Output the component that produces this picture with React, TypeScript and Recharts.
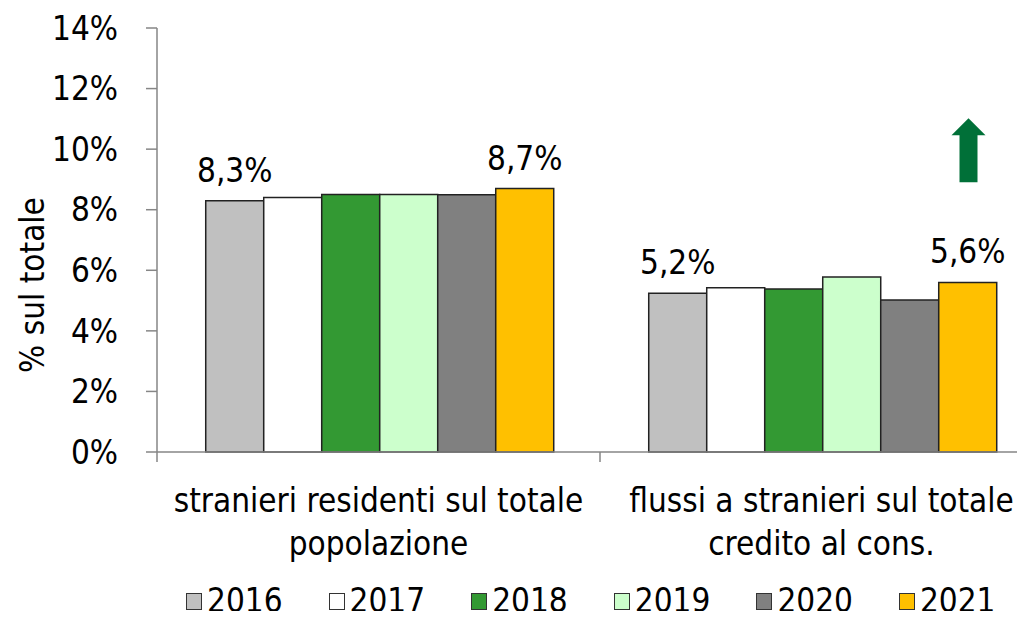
import React from "react";
import {
  BarChart,
  Bar,
  XAxis,
  YAxis,
  LabelList,
  Legend,
  ReferenceDot,
} from "recharts";

const categories = [
  "stranieri residenti sul totale|popolazione",
  "flussi a stranieri sul totale|credito al cons.",
];
const years = ["2016", "2017", "2018", "2019", "2020", "2021"];
const values2016 = [8.3, 5.24];
const values2017 = [8.4, 5.42];
const values2018 = [8.5, 5.38];
const values2019 = [8.5, 5.78];
const values2020 = [8.49, 5.02];
const values2021 = [8.7, 5.6];
const yTicks = [0, 2, 4, 6, 8, 10, 12, 14];

const colors = ["#C0C0C0", "#FFFFFF", "#339933", "#CCFFCC", "#808080", "#FFC000"];
const FONT = "'Liberation Sans Narrow', 'DejaVu Sans Condensed', sans-serif";

const series = [values2016, values2017, values2018, values2019, values2020, values2021];
const data = categories.map((name, i) => {
  const row: Record<string, string | number> = { name };
  years.forEach((y, k) => {
    row[y] = series[k][i];
  });
  return row;
});

const fmtLabel = (v: number) => `${v.toFixed(1).replace(".", ",")}%`;

function CategoryTick(props: any) {
  const { x, y, payload, index, visibleTicksCount } = props;
  const half = payload.offset || 221.5;
  const lines = String(payload.value).split("|");
  return (
    <g>
      <line x1={x - half} x2={x - half} y1={y - 8} y2={y + 2} stroke="#868686" strokeWidth={1.5} />
      {index === visibleTicksCount - 1 && (
        <line x1={x + half} x2={x + half} y1={y - 8} y2={y + 2} stroke="#868686" strokeWidth={1.5} />
      )}
      <text textAnchor="middle" fontFamily={FONT} fontSize={33} fill="#000">
        {lines.map((l, i) => (
          <tspan key={i} x={x} y={y + 52 + i * 43}>
            {l}
          </tspan>
        ))}
      </text>
    </g>
  );
}

function LegendContent() {
  return (
    <div
      style={{
        display: "flex",
        justifyContent: "flex-start",
        fontFamily: FONT,
        fontSize: 33,
        lineHeight: "34px",
      }}
    >
      {years.map((y, i) => (
        <div key={y} style={{ display: "flex", alignItems: "center", width: 142.6 }}>
          <span
            style={{
              display: "inline-block",
              width: 14,
              height: 15,
              background: colors[i],
              border: "1px solid #333",
              marginRight: 5,
            }}
          />
          <span>{y}</span>
        </div>
      ))}
    </div>
  );
}

function Arrow(props: any) {
  const { cx, cy } = props;
  const x = cx + 147;
  return (
    <path
      d={`M ${x - 17} ${cy - 14} L ${x} ${cy - 31} L ${x + 17} ${cy - 14} L ${x + 9} ${cy - 14} L ${x + 9} ${cy + 33} L ${x - 9} ${cy + 33} L ${x - 9} ${cy - 14} Z`}
      fill="#007038"
    />
  );
}

export default function App() {
  return (
    <div style={{ margin: -8, width: 1025, height: 619, overflow: "hidden", background: "#fff" }}>
      <BarChart
        width={1060}
        height={619}
        data={data}
        margin={{ top: 28, right: 17, left: 0, bottom: 0 }}
        barCategoryGap="11%"
        barGap={0}
      >
        <YAxis
          domain={[0, 14]}
          ticks={yTicks}
          width={157}
          interval={0}
          tickFormatter={(v: number) => `${v}%`}
          tick={{ fontFamily: FONT, fontSize: 33, fill: "#000" }}
          tickSize={11}
          tickMargin={28}
          stroke="#868686"
          strokeWidth={1.5}
          label={({ viewBox }: any) => (
            <text
              x={viewBox.x + 32}
              y={viewBox.y + viewBox.height / 2 + 45}
              transform={`rotate(-90 ${viewBox.x + 32} ${viewBox.y + viewBox.height / 2 + 45})`}
              textAnchor="middle"
              dominantBaseline="central"
              fontFamily={FONT}
              fontSize={33}
              fill="#000"
            >
              % sul totale
            </text>
          )}
        />
        <XAxis
          dataKey="name"
          height={127}
          tickLine={false}
          interval={0}
          stroke="#868686"
          strokeWidth={1.5}
          tick={<CategoryTick />}
        />
        <Legend
          verticalAlign="bottom"
          height={40}
          content={<LegendContent />}
          wrapperStyle={{ left: 186, width: 880, bottom: -5 }}
        />
        {years.map((y, i) => (
          <Bar
            key={y}
            dataKey={y}
            fill={colors[i]}
            stroke="#222"
            strokeWidth={1.5}
            isAnimationActive={false}
          >
            {(i === 0 || i === years.length - 1) && (
              <LabelList
                dataKey={y}
                position="top"
                offset={19}
                formatter={(v: any) => fmtLabel(Number(v))}
                style={{ fontFamily: FONT, fontSize: 33, fill: "#000" }}
              />
            )}
          </Bar>
        ))}
        <ReferenceDot x={categories[1]} y={10} r={0} shape={<Arrow />} />
      </BarChart>
    </div>
  );
}
